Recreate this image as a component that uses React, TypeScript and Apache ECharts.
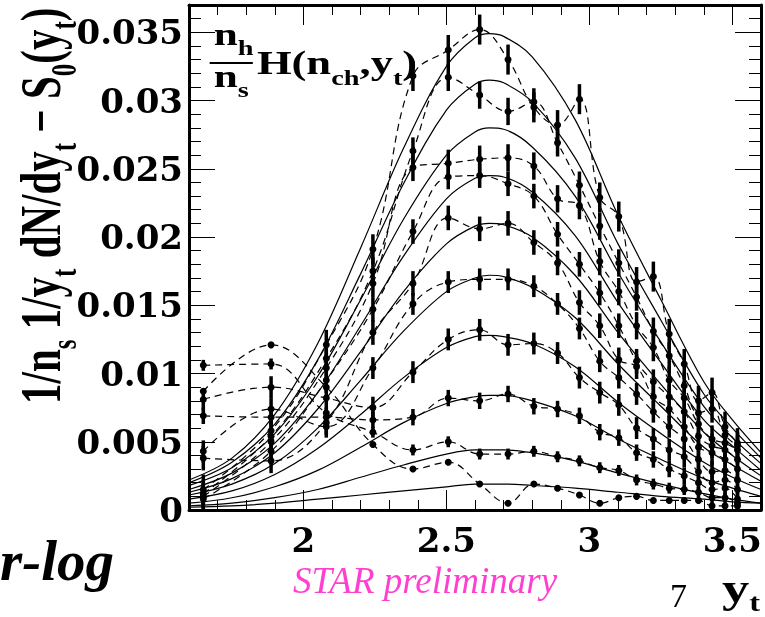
import React, { useEffect, useRef } from "react";
import * as echarts from "echarts";

// y_t bin centres (columns of measured points)
const COL_X = [1.650, 1.887, 2.080, 2.243, 2.383, 2.5065, 2.6163, 2.7155, 2.8057, 2.8886, 2.9651, 3.0362, 3.1027, 3.1649, 3.2236, 3.2790, 3.3315, 3.3813, 3.4288, 3.4742, 3.5177];

// measured hard components (10 multiplicity classes, top to bottom)
const D1 = [0.0015, 0.0058, 0.0121, 0.0191, 0.0318, 0.0337, 0.0352, 0.0330, 0.0295, 0.0282, 0.0301, 0.0229, 0.0215, 0.0167, 0.0171, 0.0129, 0.0107, 0.0080, 0.0086, 0.0061, 0.0049];
const D2 = [0.0012, 0.0054, 0.0111, 0.0175, 0.0263, 0.0317, 0.0304, 0.0292, 0.0299, 0.0269, 0.0238, 0.0208, 0.0181, 0.0156, 0.0131, 0.0113, 0.0091, 0.0071, 0.0074, 0.0055, 0.0047];
const D3 = [0.0010, 0.0050, 0.0104, 0.0166, 0.0251, 0.0254, 0.0257, 0.0258, 0.0252, 0.0228, 0.0223, 0.0182, 0.0160, 0.0135, 0.0119, 0.0095, 0.0082, 0.0063, 0.0052, 0.0049, 0.0044];
const D4 = [0.0008, 0.0043, 0.0095, 0.0147, 0.0204, 0.0244, 0.0245, 0.0239, 0.0230, 0.0202, 0.0180, 0.0159, 0.0135, 0.0109, 0.0094, 0.0083, 0.0072, 0.0054, 0.0047, 0.0044, 0.0037];
const D5 = [0.0038, 0.0036, 0.0064, 0.0130, 0.0166, 0.0214, 0.0206, 0.0210, 0.0196, 0.0181, 0.0152, 0.0135, 0.0110, 0.0105, 0.0083, 0.0074, 0.0061, 0.0046, 0.0042, 0.0037, 0.0030];
const D6 = [0.0043, 0.0074, 0.0061, 0.0104, 0.0151, 0.0167, 0.0169, 0.0169, 0.0164, 0.0151, 0.0133, 0.0109, 0.0097, 0.0085, 0.0072, 0.0061, 0.0052, 0.0037, 0.0028, 0.0029, 0.0022];
const D7 = [0.0081, 0.0090, 0.0082, 0.0075, 0.0101, 0.0125, 0.0132, 0.0121, 0.0122, 0.0115, 0.0097, 0.0086, 0.0077, 0.0060, 0.0052, 0.0044, 0.0039, 0.0028, 0.0020, 0.0022, 0.0015];
const D8 = [0.0069, 0.0068, 0.0068, 0.0066, 0.0068, 0.0082, 0.0080, 0.0085, 0.0076, 0.0074, 0.0069, 0.0057, 0.0053, 0.0042, 0.0037, 0.0030, 0.0025, 0.0020, 0.0015, 0.0016, 0.0008];
const D9 = [0.0106, 0.0107, 0.0071, 0.0057, 0.0044, 0.0050, 0.0041, 0.0041, 0.0043, 0.0039, 0.0036, 0.0031, 0.0029, 0.0022, 0.0019, 0.0016, 0.0015, 0.0013, 0.0009, 0.0009, 0.0005];
const D10 = [0.0087, 0.0121, 0.0090, 0.0048, 0.0030, 0.0035, 0.0019, 0.0005, 0.0019, 0.0016, 0.0011, 0.0005, 0.0009, 0.0010, 0.0007, 0.0007, 0.0007, 0.0007, 0.0003, 0.0003, 0.0003];
const DATA = [D1, D2, D3, D4, D5, D6, D7, D8, D9, D10];
// error bar half-lengths per class
const ERRS = [0.0011, 0.0010, 0.0010, 0.0009, 0.0009, 0.0008, 0.0008, 0.0006, 0.0004, 0.0002];

// model curves (solid)
const CURVE_X = [1.6, 1.75, 1.9, 2.05, 2.2, 2.35, 2.5, 2.6, 2.65, 2.7, 2.8, 2.95, 3.1, 3.25, 3.4, 3.5, 3.6];
const H1 = [0.0022, 0.0038, 0.0070, 0.0122, 0.0192, 0.0265, 0.0325, 0.0346, 0.0349, 0.0347, 0.0332, 0.0286, 0.0216, 0.0154, 0.0094, 0.0066, 0.0042];
const H2 = [0.0020, 0.0035, 0.0063, 0.0110, 0.0173, 0.0239, 0.0293, 0.0312, 0.0315, 0.0313, 0.0299, 0.0258, 0.0195, 0.0139, 0.0085, 0.0060, 0.0038];
const H3 = [0.0018, 0.0031, 0.0056, 0.0098, 0.0154, 0.0213, 0.0260, 0.0277, 0.0280, 0.0279, 0.0266, 0.0230, 0.0174, 0.0123, 0.0076, 0.0053, 0.0034];
const H4 = [0.0015, 0.0027, 0.0049, 0.0086, 0.0135, 0.0186, 0.0228, 0.0243, 0.0245, 0.0244, 0.0233, 0.0201, 0.0152, 0.0108, 0.0066, 0.0047, 0.0029];
const H5 = [0.0013, 0.0023, 0.0042, 0.0074, 0.0116, 0.0160, 0.0195, 0.0208, 0.0210, 0.0209, 0.0200, 0.0172, 0.0130, 0.0092, 0.0057, 0.0040, 0.0025];
const H6 = [0.0011, 0.0019, 0.0034, 0.0060, 0.0095, 0.0131, 0.0160, 0.0170, 0.0172, 0.0171, 0.0163, 0.0141, 0.0107, 0.0076, 0.0046, 0.0033, 0.0021];
const H7 = [0.0008, 0.0014, 0.0026, 0.0045, 0.0070, 0.0097, 0.0119, 0.0127, 0.0128, 0.0127, 0.0122, 0.0105, 0.0079, 0.0056, 0.0035, 0.0024, 0.0015];
const H8 = [0.0005, 0.0009, 0.0017, 0.0029, 0.0046, 0.0064, 0.0078, 0.0083, 0.0084, 0.0084, 0.0080, 0.0069, 0.0052, 0.0037, 0.0023, 0.0016, 0.0010];
const H9 = [0.0003, 0.0005, 0.0009, 0.0015, 0.0024, 0.0033, 0.0041, 0.0044, 0.0044, 0.0044, 0.0042, 0.0036, 0.0027, 0.0019, 0.0012, 0.0008, 0.0005];
const H10 = [0.0002, 0.0003, 0.0005, 0.0008, 0.0011, 0.0014, 0.0017, 0.0019, 0.0019, 0.0019, 0.0018, 0.0016, 0.0013, 0.0010, 0.0008, 0.0006, 0.0005];
const CURVES = [H1, H2, H3, H4, H5, H6, H7, H8, H9, H10];

// axis ticks
const X_MAJOR = [2, 2.5, 3, 3.5];
const X_MINOR = [1.7, 1.8, 1.9, 2.0, 2.1, 2.2, 2.3, 2.4, 2.5, 2.6, 2.7, 2.8, 2.9, 3.0, 3.1, 3.2, 3.3, 3.4, 3.5];
const Y_MAJOR = [0, 0.005, 0.01, 0.015, 0.02, 0.025, 0.03, 0.035];
const Y_MINOR = [0.001, 0.002, 0.003, 0.004, 0.005, 0.006, 0.007, 0.008, 0.009, 0.010, 0.011, 0.012, 0.013, 0.014, 0.015, 0.016, 0.017, 0.018, 0.019, 0.020, 0.021, 0.022, 0.023, 0.024, 0.025, 0.026, 0.027, 0.028, 0.029, 0.030, 0.031, 0.032, 0.033, 0.034, 0.035, 0.036];

const SERIF = "Liberation Serif";
const LABEL_FONT = "DejaVu Serif";

type Seg = { t: string; sub?: boolean };

export default function App() {
  const ref = useRef<HTMLDivElement>(null);
  useEffect(() => {
    if (!ref.current) return;
    document.body.style.margin = "0";
    const chart = echarts.init(ref.current, undefined, { renderer: "svg" });
    const cv = document.createElement("canvas");
    const ctx = cv.getContext("2d")!;
    const tw = (t: string, font: string) => {
      ctx.font = font;
      return ctx.measureText(t).width;
    };
    const run = (
      segs: Seg[],
      size: number,
      subSize: number,
      subDrop: number,
      weight = "bold",
      fstyle = "normal",
      color = "#000"
    ) => {
      let x = 0;
      const children: any[] = [];
      for (const s of segs) {
        const fs = s.sub ? subSize : size;
        const w = tw(s.t, `${fstyle} ${weight} ${fs}px "${SERIF}"`);
        const base = s.sub ? subDrop : 0;
        children.push({
          type: "text",
          x,
          y: base - 0.34 * fs,
          style: {
            text: s.t,
            fontSize: fs,
            fontFamily: SERIF,
            fontWeight: weight,
            fontStyle: fstyle,
            fill: color,
            align: "left",
            verticalAlign: "middle",
          },
        });
        x += w;
      }
      return children;
    };

    const frame = { show: true, onZero: false, lineStyle: { color: "#000", width: 3 } };
    const noLine = { show: false, onZero: false };
    const tickStyle = { color: "#000", width: 1 };
    const xBase = { type: "value", min: 1.6, max: 3.6, splitLine: { show: false } };
    const yBase = { type: "value", min: 0, max: 0.037, splitLine: { show: false } };
    const labelStyle = {
      fontFamily: LABEL_FONT,
      fontWeight: "bold",
      fontSize: 34,
      color: "#000",
    };

    const series: any[] = [];
    CURVES.forEach((c, i) => {
      series.push({
        type: "line",
        name: "model" + (i + 1),
        data: CURVE_X.map((x, j) => [x, c[j]]),
        smooth: 0.35,
        showSymbol: false,
        lineStyle: { color: "#000", width: 1.2 },
        z: 2,
        silent: true,
      });
    });
    DATA.forEach((d, i) => {
      series.push({
        type: "line",
        name: "data" + (i + 1),
        data: COL_X.map((x, j) => [x, d[j]]),
        smooth: 0.4,
        symbol: "circle",
        symbolSize: 7,
        showSymbol: true,
        showAllSymbol: true,
        itemStyle: { color: "#000" },
        lineStyle: { color: "#000", width: 1.2, type: [7, 5] },
        z: 4,
      });
    });
    const errData: number[][] = [];
    DATA.forEach((d, i) => d.forEach((v, j) => errData.push([COL_X[j], v, ERRS[i]])));
    series.push({
      type: "custom",
      name: "errors",
      data: errData,
      encode: { x: 0, y: 1 },
      clip: true,
      z: 3,
      renderItem: (_p: any, api: any) => {
        const x = api.value(0);
        const y = api.value(1);
        const e = api.value(2);
        const a = api.coord([x, y + e]);
        const b = api.coord([x, y - e]);
        return {
          type: "line",
          shape: { x1: a[0], y1: a[1], x2: b[0], y2: b[1] },
          style: { stroke: "#000", lineWidth: 3.5 },
        };
      },
    });

    const yTitle: Seg[] = [
      { t: "1/n" }, { t: "s", sub: true }, { t: " 1/y" }, { t: "t", sub: true },
      { t: " dN/dy" }, { t: "t", sub: true }, { t: " \u2212 S" }, { t: "0", sub: true },
      { t: "(y" }, { t: "t", sub: true }, { t: ")" },
    ];

    chart.setOption({
      animation: false,
      grid: { left: 189, top: 5, right: 3, bottom: 107, containLabel: false },
      xAxis: [
        {
          ...xBase, position: "bottom", axisLine: frame,
          axisTick: { show: true, inside: true, length: 20, customValues: X_MAJOR, lineStyle: tickStyle },
          axisLabel: { show: true, customValues: X_MAJOR, margin: 13, ...labelStyle, formatter: (v: number) => String(+(+v).toFixed(2)) },
        },
        {
          ...xBase, position: "bottom", axisLine: noLine,
          axisTick: { show: true, inside: true, length: 10, customValues: X_MINOR, lineStyle: tickStyle },
          axisLabel: { show: false },
        },
        {
          ...xBase, position: "top", axisLine: frame,
          axisTick: { show: true, inside: true, length: 20, customValues: X_MAJOR, lineStyle: tickStyle },
          axisLabel: { show: false },
        },
        {
          ...xBase, position: "top", axisLine: noLine,
          axisTick: { show: true, inside: true, length: 10, customValues: X_MINOR, lineStyle: tickStyle },
          axisLabel: { show: false },
        },
      ],
      yAxis: [
        {
          ...yBase, position: "left", axisLine: frame,
          axisTick: { show: true, inside: true, length: 26, customValues: Y_MAJOR, lineStyle: tickStyle },
          axisLabel: { show: true, customValues: Y_MAJOR, margin: 6, ...labelStyle, formatter: (v: number) => String(+(+v).toFixed(4)) },
        },
        {
          ...yBase, position: "left", axisLine: noLine,
          axisTick: { show: true, inside: true, length: 12, customValues: Y_MINOR, lineStyle: tickStyle },
          axisLabel: { show: false },
        },
        {
          ...yBase, position: "right", axisLine: frame,
          axisTick: { show: true, inside: true, length: 26, customValues: Y_MAJOR, lineStyle: tickStyle },
          axisLabel: { show: false },
        },
        {
          ...yBase, position: "right", axisLine: noLine,
          axisTick: { show: true, inside: true, length: 12, customValues: Y_MINOR, lineStyle: tickStyle },
          axisLabel: { show: false },
        },
      ],
      series,
      graphic: [
        {
          type: "group", x: 61, y: 404, rotation: Math.PI / 2, scaleY: 1.4,
          children: run(yTitle, 41, 25, 11),
        },
        {
          type: "group", x: 211, y: 0, scaleX: 1.35, z: 10,
          children: [
            { type: "group", x: 2, y: 45, children: run([{ t: "n" }, { t: "h", sub: true }], 32, 21, 10) },
            { type: "line", shape: { x1: -1, y1: 63, x2: 31, y2: 63 }, style: { stroke: "#000", lineWidth: 2 } },
            { type: "group", x: 2, y: 87, children: run([{ t: "n" }, { t: "s", sub: true }], 32, 21, 10) },
            {
              type: "group", x: 34, y: 74,
              children: run([{ t: "H(n" }, { t: "ch", sub: true }, { t: ",y" }, { t: "t", sub: true }, { t: ")" }], 33, 21, 11),
            },
          ],
        },
        {
          type: "group", x: 722, y: 602, scaleX: 1.3,
          children: run([{ t: "y" }, { t: "t", sub: true }], 42, 25, 9),
        },
        {
          type: "text", x: 670, y: 607 - 0.34 * 34,
          style: { text: "7", fontSize: 34, fontFamily: SERIF, fill: "#000", align: "left", verticalAlign: "middle" },
        },
        {
          type: "text", x: 293, y: 593 - 0.34 * 37,
          style: { text: "STAR preliminary", fontSize: 37, fontFamily: SERIF, fontStyle: "italic", fill: "#ff3fcf", align: "left", verticalAlign: "middle" },
        },
        {
          type: "text", x: 0, y: 580 - 0.34 * 57,
          style: { text: "r-log", fontSize: 57, fontFamily: SERIF, fontStyle: "italic", fontWeight: "bold", fill: "#000", align: "left", verticalAlign: "middle" },
        },
      ],
    });
    return () => chart.dispose();
  }, []);
  return <div ref={ref} style={{ position: "fixed", left: 0, top: 0, width: 765, height: 617 }} />;
}
